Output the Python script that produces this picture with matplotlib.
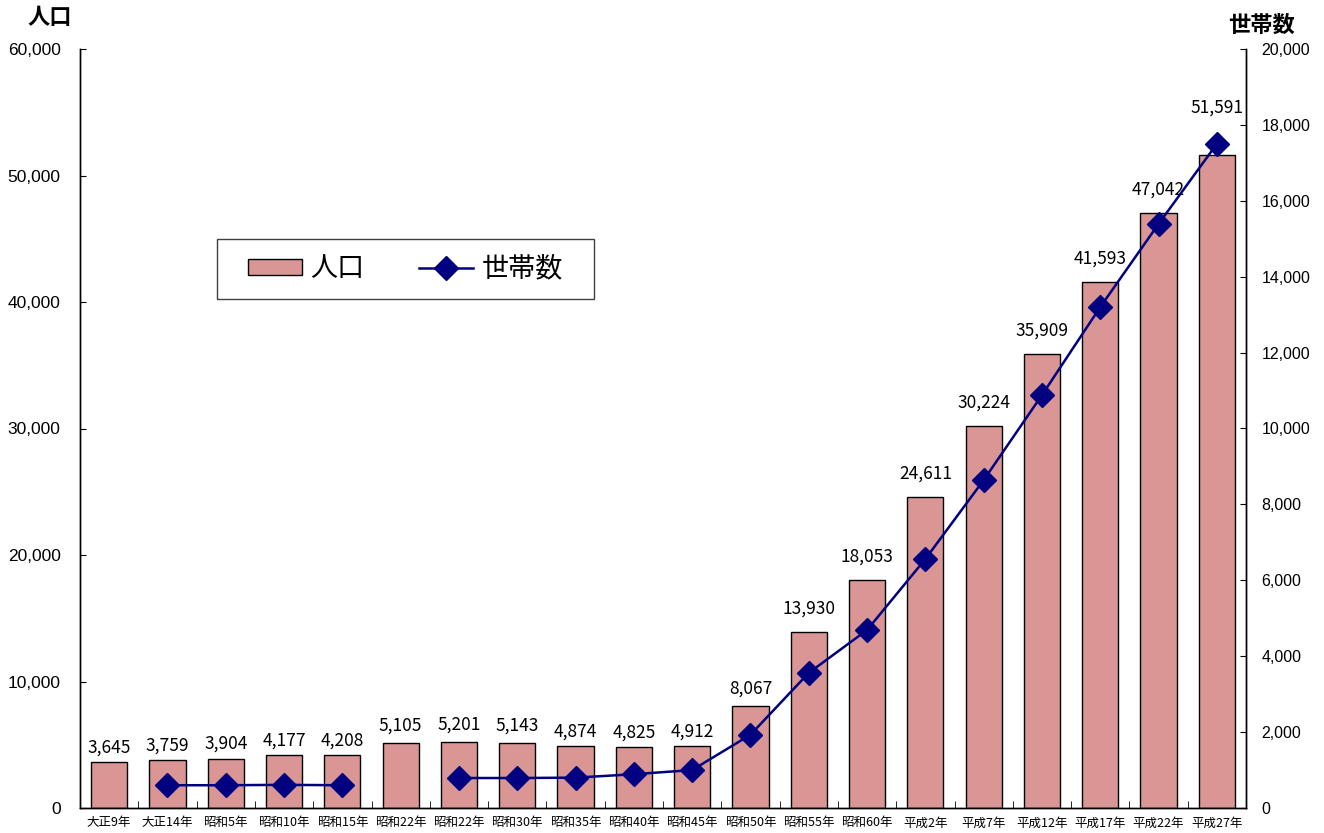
import numpy as np
import matplotlib
matplotlib.use('Agg')
import matplotlib.pyplot as plt
from matplotlib.patches import Rectangle

plt.rcParams['font.family'] = ['Noto Sans CJK JP', 'DejaVu Sans']

# 年次
years = ['大正9年', '大正14年', '昭和5年', '昭和10年', '昭和15年', '昭和22年',
         '昭和22年', '昭和30年', '昭和35年', '昭和40年', '昭和45年', '昭和50年',
         '昭和55年', '昭和60年', '平成2年', '平成7年', '平成12年', '平成17年',
         '平成22年', '平成27年']
# 人口
population = [3645, 3759, 3904, 4177, 4208, 5105, 5201, 5143, 4874, 4825,
              4912, 8067, 13930, 18053, 24611, 30224, 35909, 41593, 47042, 51591]
# 世帯数 (読み取り値, 欠測はnan)
households = [np.nan, 600, 600, 610, 600, np.nan, 790, 790, 800, 890,
              1000, 1930, 3560, 4690, 6560, 8640, 10880, 13200, 15390, 17500]

x = np.arange(len(years))

fig = plt.figure(figsize=(13.24, 8.33), dpi=100)
ax = fig.add_axes([80/1324, 25/833, 1166/1324, 759/833])
ax2 = ax.twinx()

bars = ax.bar(x, population, width=0.62, color='#D99694', edgecolor='black',
              linewidth=1.0, label='人口', zorder=2)
# ラベルの上げ幅(pt) 最後だけ線を避けて高め
for i, (xi, v) in enumerate(zip(x, population)):
    off = 10
    if i == len(population) - 1:
        off = 28
    elif v < 5000:
        off = 4
    elif v < 10000:
        off = 6
    ax.annotate(f'{v:,}', (xi, v), xytext=(0, off), textcoords='offset points',
                ha='center', va='bottom', fontsize=12.5)

ax2.plot(x, households, color='#000080', linewidth=1.8, marker='D',
         markersize=12, label='世帯数', zorder=3)

ax.set_xlim(-0.5, len(years) - 0.5)
ax.set_ylim(0, 60000)
ax.set_yticks(np.arange(0, 60001, 10000))
ax.set_yticklabels([f'{v:,}' for v in range(0, 60001, 10000)], fontsize=12.5,
                   family='Liberation Sans')
ax2.set_ylim(0, 20000)
ax2.set_yticks(np.arange(0, 20001, 2000))
ax2.set_yticklabels([f'{v:,}' for v in range(0, 20001, 2000)], fontsize=11.5,
                    family='Liberation Sans')

ax.set_xticks(x)
ax.set_xticklabels(years, fontsize=9)
ax.tick_params(axis='x', length=0, pad=6)
ax.set_xticks(np.arange(-0.5, len(years)), minor=True)
ax.tick_params(axis='x', which='minor', length=5, direction='in')
ax.tick_params(axis='y', direction='in', length=4, pad=14)
ax2.tick_params(axis='y', direction='in', length=4, pad=11)

for a in (ax, ax2):
    a.spines['top'].set_visible(False)
    for s in ('left', 'right', 'bottom'):
        a.spines[s].set_color('black')
        a.spines[s].set_linewidth(1.0)

ax.set_zorder(ax2.get_zorder() - 1)
ax.patch.set_visible(False)
ax2.set_zorder(1)

# 凡例の枠
box = (137/1166, (808-299)/759, 377/1166, 60/759)
ax2.add_patch(Rectangle(box[:2], box[2], box[3], transform=ax2.transAxes,
                        facecolor='white', edgecolor='#404040', linewidth=1.0,
                        zorder=4))
h1, l1 = ax.get_legend_handles_labels()
h2, l2 = ax2.get_legend_handles_labels()
leg = ax2.legend(h1 + h2, l1 + l2, ncol=2, loc='center',
                 bbox_to_anchor=(box[0] + box[2]/2, box[1] + box[3]/2),
                 fontsize=19.5, frameon=False, handlelength=2.0, handleheight=0.5,
                 handletextpad=0.3, columnspacing=2.0, borderaxespad=0)
leg.set_zorder(5)

fig.text(50/1324, 1 - 18/833, '人口', fontsize=16, fontweight='bold',
         ha='center', va='center')
fig.text(1262/1324, 1 - 25/833, '世帯数', fontsize=16, fontweight='bold',
         ha='center', va='center')

fig.savefig('out.png', dpi=100)
